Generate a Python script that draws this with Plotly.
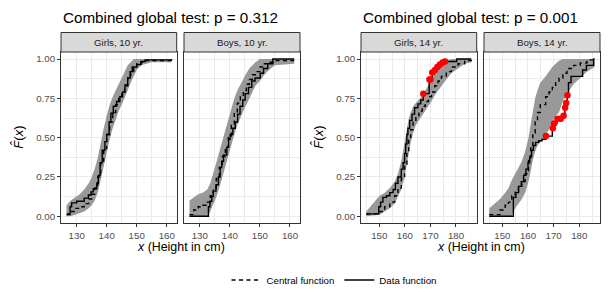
import plotly.graph_objects as go

W, H = 613, 306
FONT = "Liberation Sans, Arial, Helvetica, sans-serif"

# ---------------- text ----------------
group_titles = ["Combined global test: p = 0.312", "Combined global test: p = 0.001"]
strip_labels = ["Girls, 10 yr.", "Boys, 10 yr.", "Girls, 14 yr.", "Boys, 14 yr."]
x_title = "<i>x</i> (Height in cm)"
y_title = "<i>F\u0302</i>(<i>x</i>)"
x_ticks_10 = [130, 140, 150, 160]
x_ticks_14 = [150, 160, 170, 180]
y_ticks = [0, 0.25, 0.5, 0.75, 1.0]
y_tick_labels = ["0.00", "0.25", "0.50", "0.75", "1.00"]

# ---------------- Girls, 10 yr. ----------------
g10_grid = [126.6, 128.0, 129.5, 131.0, 132.5, 134.0, 135.0, 136.0, 137.0, 138.0, 139.0, 140.0, 141.0,
            142.0, 143.0, 144.0, 145.0, 146.0, 147.0, 148.0, 149.0, 150.0, 151.5, 153.0, 155.0, 161.6]
g10_central = [0.01, 0.03, 0.05, 0.06, 0.08, 0.11, 0.14, 0.18, 0.25, 0.34, 0.43, 0.52, 0.60,
               0.66, 0.71, 0.75, 0.79, 0.83, 0.88, 0.92, 0.95, 0.97, 0.98, 0.99, 0.99, 0.99]
g10_hi = [0.07, 0.10, 0.12, 0.14, 0.17, 0.21, 0.25, 0.30, 0.37, 0.47, 0.56, 0.64, 0.71,
          0.76, 0.80, 0.84, 0.88, 0.92, 0.96, 0.98, 1.0, 1.0, 1.0, 1.0, 1.0, 1.0]
g10_lo = [0.0, 0.0, 0.01, 0.02, 0.03, 0.05, 0.07, 0.10, 0.15, 0.23, 0.32, 0.41, 0.49,
          0.56, 0.62, 0.67, 0.71, 0.75, 0.80, 0.85, 0.89, 0.93, 0.96, 0.97, 0.98, 0.98]
g10_data_x = [126.7, 127.8, 128.3, 130.0, 132.5, 133.9, 134.8, 135.5, 136.7, 137.2, 137.8, 138.5, 139.4, 140.0,
              140.8, 141.4, 142.2, 143.3, 144.4, 145.3, 146.1, 147.0, 147.8, 148.5, 150.0, 151.4, 152.8, 161.6]
g10_data_y = [0.015, 0.06, 0.085, 0.095, 0.115, 0.135, 0.155, 0.175, 0.21, 0.26, 0.34, 0.42, 0.475, 0.52,
              0.60, 0.655, 0.70, 0.73, 0.76, 0.79, 0.835, 0.88, 0.92, 0.95, 0.965, 0.985, 0.995, 1.0]
g10_out_x = []
g10_out_y = []

# ---------------- Boys, 10 yr. ----------------
b10_grid = [126.6, 128.0, 129.5, 131.0, 132.5, 133.5, 134.5, 135.5, 136.5, 137.5, 138.5, 139.5, 140.5,
            141.5, 142.5, 143.5, 144.5, 145.5, 146.5, 147.5, 148.5, 150.0, 151.5, 153.0, 155.0, 161.4]
b10_central = [0.01, 0.04, 0.06, 0.07, 0.09, 0.13, 0.18, 0.24, 0.31, 0.38, 0.44, 0.51, 0.58,
               0.66, 0.72, 0.76, 0.80, 0.84, 0.87, 0.90, 0.92, 0.95, 0.97, 0.98, 0.99, 0.99]
b10_hi = [0.10, 0.12, 0.14, 0.15, 0.17, 0.21, 0.27, 0.34, 0.41, 0.48, 0.55, 0.62, 0.69,
          0.75, 0.80, 0.84, 0.88, 0.91, 0.94, 0.96, 0.98, 1.0, 1.0, 1.0, 1.0, 1.0]
b10_lo = [0.0, 0.0, 0.0, 0.0, 0.0, 0.03, 0.07, 0.12, 0.18, 0.25, 0.31, 0.38, 0.45,
          0.52, 0.58, 0.63, 0.67, 0.71, 0.75, 0.79, 0.83, 0.86, 0.90, 0.93, 0.96, 0.97]
b10_data_x = [126.6, 132.9, 133.4, 134.0, 134.5, 135.4, 136.2, 136.8, 137.3, 137.9, 139.0, 139.6, 140.1, 141.0,
              141.8, 142.6, 143.4, 144.3, 145.1, 146.2, 147.3, 148.4, 150.1, 151.2, 152.6, 154.3, 161.4]
b10_data_y = [0.0, 0.06, 0.095, 0.125, 0.16, 0.20, 0.25, 0.31, 0.35, 0.39, 0.44, 0.49, 0.52, 0.56,
              0.60, 0.65, 0.70, 0.74, 0.78, 0.82, 0.86, 0.88, 0.91, 0.94, 0.97, 1.0, 1.0]
b10_out_x = []
b10_out_y = []

# ---------------- Girls, 14 yr. ----------------
g14_grid = [144.9, 150.1, 152.1, 154.1, 156.0, 157.3, 158.6, 159.9, 160.8, 161.5, 162.3, 163.2, 164.3,
            165.5, 166.8, 168.0, 169.2, 170.4, 171.7, 173.0, 174.3, 176.2, 178.2, 180.8, 183.4, 186.0]
g14_central = [0.015, 0.03, 0.06, 0.09, 0.13, 0.18, 0.24, 0.33, 0.41, 0.49, 0.55, 0.60, 0.64,
               0.67, 0.70, 0.73, 0.76, 0.79, 0.83, 0.86, 0.89, 0.92, 0.95, 0.97, 0.99, 1.0]
g14_hi = [0.03, 0.13, 0.15, 0.18, 0.22, 0.27, 0.35, 0.48, 0.56, 0.62, 0.66, 0.70, 0.72,
          0.745, 0.765, 0.80, 0.84, 0.87, 0.905, 0.935, 0.955, 0.99, 1.0, 1.0, 1.0, 1.0]
g14_lo = [0.0, 0.01, 0.03, 0.05, 0.08, 0.12, 0.17, 0.25, 0.33, 0.41, 0.47, 0.53, 0.58,
          0.61, 0.64, 0.67, 0.70, 0.73, 0.77, 0.80, 0.83, 0.87, 0.91, 0.94, 0.97, 0.98]
g14_data_x = [144.9, 149.8, 150.5, 151.4, 152.8, 154.1, 155.4, 156.3, 157.3, 158.6, 159.3, 159.9, 160.3, 160.8,
              161.2, 161.9, 162.8, 163.8, 165.1, 166.2, 167.2, 169.5, 170.7, 171.8, 172.7, 173.7, 174.8, 175.7,
              180.3, 186.0]
g14_data_y = [0.015, 0.06, 0.09, 0.12, 0.13, 0.15, 0.17, 0.21, 0.25, 0.30, 0.34, 0.40, 0.46, 0.52,
              0.56, 0.61, 0.65, 0.69, 0.715, 0.74, 0.78, 0.87, 0.915, 0.93, 0.95, 0.965, 0.978, 0.985,
              1.0, 1.0]
g14_out_x = [167.2, 169.6, 170.0, 170.7, 171.8, 172.7, 173.7, 174.8, 175.7]
g14_out_y = [0.78, 0.87, 0.87, 0.915, 0.93, 0.95, 0.965, 0.978, 0.985]

# ---------------- Boys, 14 yr. ----------------
b14_grid = [144.9, 149.1, 151.1, 152.4, 153.7, 155.0, 156.3, 157.6, 158.9, 160.2, 161.1, 161.9, 162.8,
            163.7, 164.8, 166.9, 168.2, 169.5, 170.8, 172.1, 173.6, 175.2, 177.8, 180.4, 183.0, 186.0]
b14_central = [0.01, 0.04, 0.07, 0.09, 0.13, 0.16, 0.19, 0.22, 0.27, 0.36, 0.44, 0.53, 0.60,
               0.66, 0.71, 0.76, 0.79, 0.82, 0.85, 0.88, 0.91, 0.94, 0.96, 0.975, 0.995, 1.0]
b14_hi = [0.05, 0.11, 0.15, 0.18, 0.23, 0.27, 0.31, 0.35, 0.41, 0.50, 0.59, 0.68, 0.75,
          0.80, 0.85, 0.89, 0.92, 0.95, 0.97, 0.99, 1.0, 1.0, 1.0, 1.0, 1.0, 1.0]
b14_lo = [0.0, 0.0, 0.0, 0.0, 0.0, 0.05, 0.08, 0.11, 0.15, 0.22, 0.29, 0.36, 0.41,
          0.45, 0.47, 0.52, 0.55, 0.60, 0.64, 0.66, 0.73, 0.78, 0.84, 0.88, 0.92, 0.95]
b14_data_x = [144.9, 154.3, 155.3, 156.3, 157.4, 158.3, 159.2, 160.0, 160.7, 161.4, 162.1, 163.0, 164.2, 165.5,
              167.0, 169.5, 170.2, 171.3, 173.5, 174.4, 174.8, 175.3, 175.8, 176.8, 181.3, 182.8, 185.6, 186.0]
b14_data_y = [0.0, 0.12, 0.15, 0.19, 0.22, 0.26, 0.30, 0.34, 0.38, 0.42, 0.45, 0.47, 0.48, 0.49,
              0.51, 0.56, 0.59, 0.62, 0.64, 0.69, 0.72, 0.77, 0.85, 0.89, 0.93, 0.96, 1.0, 1.0]
b14_out_x = [167.0, 169.7, 170.2, 171.5, 172.8, 173.9, 174.5, 174.9, 175.4]
b14_out_y = [0.51, 0.56, 0.59, 0.62, 0.62, 0.64, 0.69, 0.72, 0.77]

panels = [
    (g10_grid, g10_central, g10_lo, g10_hi, g10_data_x, g10_data_y, g10_out_x, g10_out_y),
    (b10_grid, b10_central, b10_lo, b10_hi, b10_data_x, b10_data_y, b10_out_x, b10_out_y),
    (g14_grid, g14_central, g14_lo, g14_hi, g14_data_x, g14_data_y, g14_out_x, g14_out_y),
    (b14_grid, b14_central, b14_lo, b14_hi, b14_data_x, b14_data_y, b14_out_x, b14_out_y),
]

# ---------------- layout geometry (pixels) ----------------
P_LEFT = [61, 184, 361, 484]
P_RIGHT = [176.7, 300, 476.7, 600]
P_TOP, P_BOT = 52, 223.3
STRIP_TOP = 32.5
X_RANGES = [[124.77, 163.33], [124.77, 163.33], [142.84, 188.1], [142.84, 188.1]]
Y_RANGE = [-0.045, 1.045]

def px(x):
    return x / W

def py(y):
    return 1 - y / H

ENV = "#999999"
TICK_FONT = dict(family=FONT, size=9.7, color="#4d4d4d")

fig = go.Figure()
for i, (grid, cen, lo, hi, dx, dy, ox, oy) in enumerate(panels):
    xa = "x" if i == 0 else f"x{i+1}"
    ya = "y" if i == 0 else f"y{i+1}"
    fig.add_trace(go.Scatter(x=grid, y=lo, mode="lines", line=dict(width=0, shape="linear", color=ENV),
                             showlegend=False, hoverinfo="skip", xaxis=xa, yaxis=ya))
    fig.add_trace(go.Scatter(x=grid, y=hi, mode="lines", line=dict(width=0, shape="linear", color=ENV),
                             fill="tonexty", fillcolor=ENV,
                             showlegend=False, hoverinfo="skip", xaxis=xa, yaxis=ya))
    fig.add_trace(go.Scatter(x=grid, y=cen, mode="lines", name="Central function",
                             line=dict(color="black", width=1.4, dash="4px,3.5px", shape="hv"),
                             showlegend=(i == 0), xaxis=xa, yaxis=ya))
    fig.add_trace(go.Scatter(x=dx, y=dy, mode="lines", name="Data function",
                             line=dict(color="black", width=1.4, shape="hv"),
                             showlegend=(i == 0), xaxis=xa, yaxis=ya))
    if ox:
        fig.add_trace(go.Scatter(x=ox, y=oy, mode="markers",
                                 marker=dict(color="#ff0000", size=6.5, line=dict(width=0)),
                                 showlegend=False, xaxis=xa, yaxis=ya))

layout = dict(
    width=W, height=H, autosize=False,
    margin=dict(l=0, r=0, t=0, b=0),
    paper_bgcolor="white", plot_bgcolor="white",
    font=dict(family=FONT, color="#000000"),
    showlegend=True,
    legend=dict(orientation="h", x=px(334), xanchor="center", y=py(280), yanchor="middle",
                traceorder="normal",
                font=dict(family=FONT, size=9.7, color="#000000"), bgcolor="rgba(0,0,0,0)",
                itemwidth=30, tracegroupgap=0),
)

shapes = []
annotations = []
for i in range(4):
    sfx = "" if i == 0 else str(i + 1)
    group14 = i >= 2
    layout["xaxis" + sfx] = dict(
        domain=[px(P_LEFT[i]), px(P_RIGHT[i])], range=X_RANGES[i], anchor="y" + sfx,
        tickmode="array", tickvals=x_ticks_14 if group14 else x_ticks_10,
        ticks="outside", ticklen=3, tickwidth=1, tickcolor="#333333", tickfont=TICK_FONT,
        showgrid=True, gridcolor="#ebebeb", gridwidth=1,
        minor=dict(dtick=5, tick0=0, showgrid=True, gridcolor="#ebebeb", gridwidth=0.6, ticks=""),
        showline=True, mirror=True, linecolor="#333333", linewidth=1,
        zeroline=False, automargin=False, fixedrange=True,
    )
    layout["yaxis" + sfx] = dict(
        domain=[py(P_BOT), py(P_TOP)], range=Y_RANGE, anchor="x" + sfx,
        tickmode="array", tickvals=y_ticks, ticktext=y_tick_labels,
        showticklabels=(i in (0, 2)), ticks="outside" if i in (0, 2) else "",
        ticklen=3, tickwidth=1, tickcolor="#333333", tickfont=TICK_FONT,
        showgrid=True, gridcolor="#ebebeb", gridwidth=1,
        minor=dict(dtick=0.125, tick0=0, showgrid=True, gridcolor="#ebebeb", gridwidth=0.6, ticks=""),
        showline=True, mirror=True, linecolor="#333333", linewidth=1,
        zeroline=False, automargin=False, fixedrange=True,
    )
    # strip
    shapes.append(dict(type="rect", xref="paper", yref="paper",
                       x0=px(P_LEFT[i]), x1=px(P_RIGHT[i]), y0=py(P_TOP), y1=py(STRIP_TOP),
                       fillcolor="#d9d9d9", line=dict(color="#333333", width=1), layer="above"))
    annotations.append(dict(text=strip_labels[i], xref="paper", yref="paper",
                            x=px((P_LEFT[i] + P_RIGHT[i]) / 2), y=py((P_TOP + STRIP_TOP) / 2),
                            xanchor="center", yanchor="middle", showarrow=False,
                            font=dict(family=FONT, size=9.7, color="#1a1a1a")))

for g in range(2):
    left = P_LEFT[2 * g]
    right = P_RIGHT[2 * g + 1]
    annotations.append(dict(text=group_titles[g], xref="paper", yref="paper",
                            x=px(left), y=py(17.5), xanchor="left", yanchor="middle",
                            showarrow=False, font=dict(family=FONT, size=15.2, color="#000000")))
    annotations.append(dict(text=x_title, xref="paper", yref="paper",
                            x=px((left + right) / 2), y=py(246.5), xanchor="center", yanchor="middle",
                            showarrow=False, font=dict(family=FONT, size=12.4, color="#000000")))
    annotations.append(dict(text=y_title, xref="paper", yref="paper",
                            x=px(left - 43), y=py((P_TOP + P_BOT) / 2), xanchor="center", yanchor="middle",
                            textangle=-90, showarrow=False,
                            font=dict(family=FONT, size=13, color="#000000")))

layout["shapes"] = shapes
layout["annotations"] = annotations
fig.update_layout(**layout)
fig.write_html("out.html", config={"displayModeBar": False},
               post_script="document.body.style.margin='0px';document.body.style.padding='0px';")
